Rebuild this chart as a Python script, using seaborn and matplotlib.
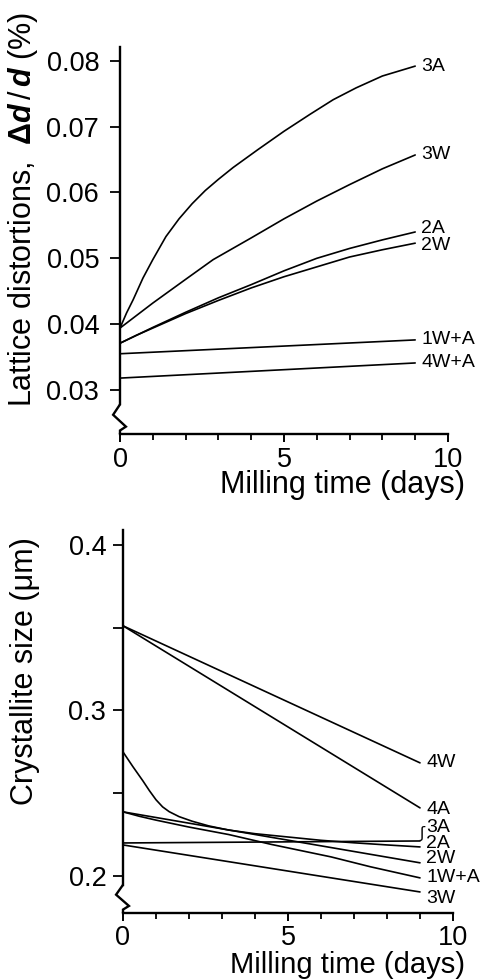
import numpy as np
import pandas as pd
import matplotlib
matplotlib.use("Agg")
import matplotlib.pyplot as plt
import matplotlib.transforms as mtransforms
import seaborn as sns

# ---- top panel: lattice distortions (%) vs milling time (days)
top_names = ["3A", "3W", "2A", "2W", "1W+A", "4W+A"]
top_3A_t = [0, 0.2, 0.4, 0.7, 1.0, 1.4, 1.8, 2.2, 2.6, 3.0, 3.45, 4.2, 5.0, 5.8, 6.5, 7.2, 8.0, 9.0]
top_3A_v = [0.0394, 0.0417, 0.0437, 0.0470, 0.0498, 0.0533, 0.0560, 0.0583, 0.0603, 0.0620,
            0.0638, 0.0665, 0.0693, 0.0719, 0.0741, 0.0759, 0.0777, 0.0792]
top_3W_t = [0, 1, 2, 2.84, 4, 5, 6, 7, 8, 9]
top_3W_v = [0.0394, 0.0432, 0.0468, 0.0498, 0.0531, 0.0560, 0.0587, 0.0612, 0.0636, 0.0657]
top_2A_t = [0, 0.5, 1, 2, 3, 4, 5, 6, 7, 8, 9]
top_2A_v = [0.0371, 0.0383, 0.0395, 0.0418, 0.0440, 0.0460, 0.0481, 0.0500, 0.0515, 0.0528, 0.0540]
top_2W_t = [0, 0.5, 1, 2, 3, 4, 5, 6, 7, 8, 9]
top_2W_v = [0.0371, 0.0383, 0.0394, 0.0416, 0.0436, 0.0455, 0.0472, 0.0487, 0.0502, 0.0513, 0.0523]
top_1WA_t = [0, 9]
top_1WA_v = [0.0355, 0.0376]
top_4WA_t = [0, 9]
top_4WA_v = [0.0318, 0.0341]

# ---- bottom panel: crystallite size (um) vs milling time (days)
bot_names = ["4W", "4A", "3A", "2A", "2W", "1W+A", "3W"]
bot_4W_t = [0, 9]
bot_4W_v = [0.3511, 0.2683]
bot_4A_t = [0, 9]
bot_4A_v = [0.3511, 0.2411]
bot_3A_t = [0, 9]
bot_3A_v = [0.2199, 0.2211]
bot_2A_t = [0, 0.3, 0.6, 0.8, 1.0, 1.2, 1.4, 1.7, 2.1, 2.6, 3.2, 4.0, 5.0, 6.0, 7.0, 8.0, 9.0]
bot_2A_v = [0.2749, 0.2660, 0.2575, 0.2515, 0.2460, 0.2417, 0.2388, 0.2358, 0.2330, 0.2302,
            0.2277, 0.2255, 0.2235, 0.2215, 0.2200, 0.2187, 0.2175]
bot_2W_t = [0, 9]
bot_2W_v = [0.2387, 0.2079]
bot_1WA_t = [0, 0.5, 1, 2, 3.2, 4.5, 6.3, 7.5, 9]
bot_1WA_v = [0.2387, 0.2360, 0.2337, 0.2295, 0.2250, 0.2190, 0.2115, 0.2055, 0.1988]
bot_3W_t = [0, 9]
bot_3W_v = [0.2187, 0.1903]

# label shifts (points) where a label sits off its line end
top_label_dy = [0, 0, 2.5, -2, 0, 0]
bot_label_dy = [0, -1.5, 10, 2.5, 3, 0, -4.5]


def long_df(names, ts, vs):
    parts = [pd.DataFrame({"days": t, "value": v, "sample": n}) for n, t, v in zip(names, ts, vs)]
    return pd.concat(parts, ignore_index=True)


df_top = long_df(top_names,
                 [top_3A_t, top_3W_t, top_2A_t, top_2W_t, top_1WA_t, top_4WA_t],
                 [top_3A_v, top_3W_v, top_2A_v, top_2W_v, top_1WA_v, top_4WA_v])
df_bot = long_df(bot_names,
                 [bot_4W_t, bot_4A_t, bot_3A_t, bot_2A_t, bot_2W_t, bot_1WA_t, bot_3W_t],
                 [bot_4W_v, bot_4A_v, bot_3A_v, bot_2A_v, bot_2W_v, bot_1WA_v, bot_3W_v])

sns.set_theme(style="ticks")
plt.rcParams["font.family"] = ["Liberation Sans", "DejaVu Sans"]
plt.rcParams["mathtext.fontset"] = "custom"
plt.rcParams["mathtext.rm"] = "Liberation Sans"
plt.rcParams["mathtext.bf"] = "Liberation Sans:bold"
plt.rcParams["mathtext.it"] = "Liberation Sans:italic"
plt.rcParams["mathtext.bfit"] = "Liberation Sans:italic:bold"

fig = plt.figure(figsize=(4.8, 9.8), dpi=100)
ax1 = fig.add_axes([0.25, 0.5571, 0.6833, 0.3949])
ax2 = fig.add_axes([0.25625, 0.0684, 0.6875, 0.3908])

TICK_FS = 19.5
LAB_FS = 22
CURVE_FS = 14


def style_axes(ax, ylim, brk, ypad):
    sns.despine(ax=ax)
    ax.set_xlim(0, 10)
    ax.set_ylim(*ylim)
    for s in ("left", "bottom"):
        ax.spines[s].set_linewidth(1.7)
        ax.spines[s].set_color("black")
    ax.spines["left"].set_bounds(brk, ylim[1])
    ax.set_xticks([0, 5, 10])
    ax.set_xticks(np.arange(0, 11, 1), minor=True)
    ax.tick_params(axis="both", which="both", direction="out", color="black",
                   labelsize=TICK_FS, labelcolor="black")
    ax.tick_params(axis="y", which="both", length=7, width=1.3, pad=ypad)
    ax.tick_params(axis="x", which="major", length=6, width=1.4, pad=3)
    ax.tick_params(axis="x", which="minor", length=4.5, width=1.3)
    # axis break zigzag under the y axis
    tr = mtransforms.blended_transform_factory(ax.transAxes, ax.transData)
    span = brk - ylim[0]
    zx = [0, -0.021, 0.018, 0, 0]
    zy = [brk, brk - 0.35 * span, brk - 0.75 * span, brk - 0.88 * span, ylim[0]]
    ax.plot(zx, zy, color="black", lw=1.7, transform=tr, clip_on=False,
            solid_capstyle="butt", solid_joinstyle="miter")


# ---- top
sns.lineplot(data=df_top, x="days", y="value", units="sample", estimator=None,
             color="black", linewidth=1.2, ax=ax1, legend=False, sort=False)
style_axes(ax1, (0.0233, 0.0821), 0.0278, 8)
ax1.set_yticks([0.03, 0.04, 0.05, 0.06, 0.07, 0.08])
ax1.set_yticklabels([f"{v:.2f}" for v in ax1.get_yticks()])
for name, dy in zip(top_names, top_label_dy):
    end = df_top[df_top["sample"] == name].iloc[-1]
    ax1.annotate(name, (end["days"], end["value"]), xytext=(4.5, dy),
                 textcoords="offset points", fontsize=CURVE_FS,
                 va="center", ha="left", color="black")
ax1.set_xlabel("Milling time (days)", fontsize=LAB_FS, loc="right", color="black")
ax1.xaxis.set_label_coords(1.052, -0.093)
ax1.set_ylabel(r"Lattice distortions,  $\mathbf{\Delta}\mathbfit{d}\,/\,\mathbfit{d}$ (%)",
               fontsize=LAB_FS, color="black")
ax1.yaxis.set_label_coords(-0.245, 0.58)

# ---- bottom
sns.lineplot(data=df_bot, x="days", y="value", units="sample", estimator=None,
             color="black", linewidth=1.2, ax=ax2, legend=False, sort=False)
style_axes(ax2, (0.1776, 0.409), 0.1946, 5)
ax2.set_yticks([0.2, 0.3, 0.4])
ax2.set_yticks([0.25, 0.35], minor=True)
ax2.set_yticklabels([f"{v:.1f}" for v in ax2.get_yticks()])
for name, dy in zip(bot_names, bot_label_dy):
    end = df_bot[df_bot["sample"] == name].iloc[-1]
    ax2.annotate(name, (end["days"], end["value"]), xytext=(4.5, dy),
                 textcoords="offset points", fontsize=CURVE_FS,
                 va="center", ha="left", color="black")
# little brace tying the 3A label to its line
end3 = df_bot[df_bot["sample"] == "3A"].iloc[-1]
ax2.annotate("ʃ", (end3["days"], end3["value"]), xytext=(1, 5.5),
             textcoords="offset points", fontsize=11, va="center", ha="center",
             family=["DejaVu Sans"], color="black")
ax2.set_xlabel("Milling time (days)", fontsize=21, loc="right", color="black")
ax2.xaxis.set_label_coords(1.036, -0.100)
ax2.set_ylabel("Crystallite size (μm)", fontsize=LAB_FS, color="black")
ax2.yaxis.set_label_coords(-0.252, 0.632)

fig.savefig("out.png", dpi=100)
